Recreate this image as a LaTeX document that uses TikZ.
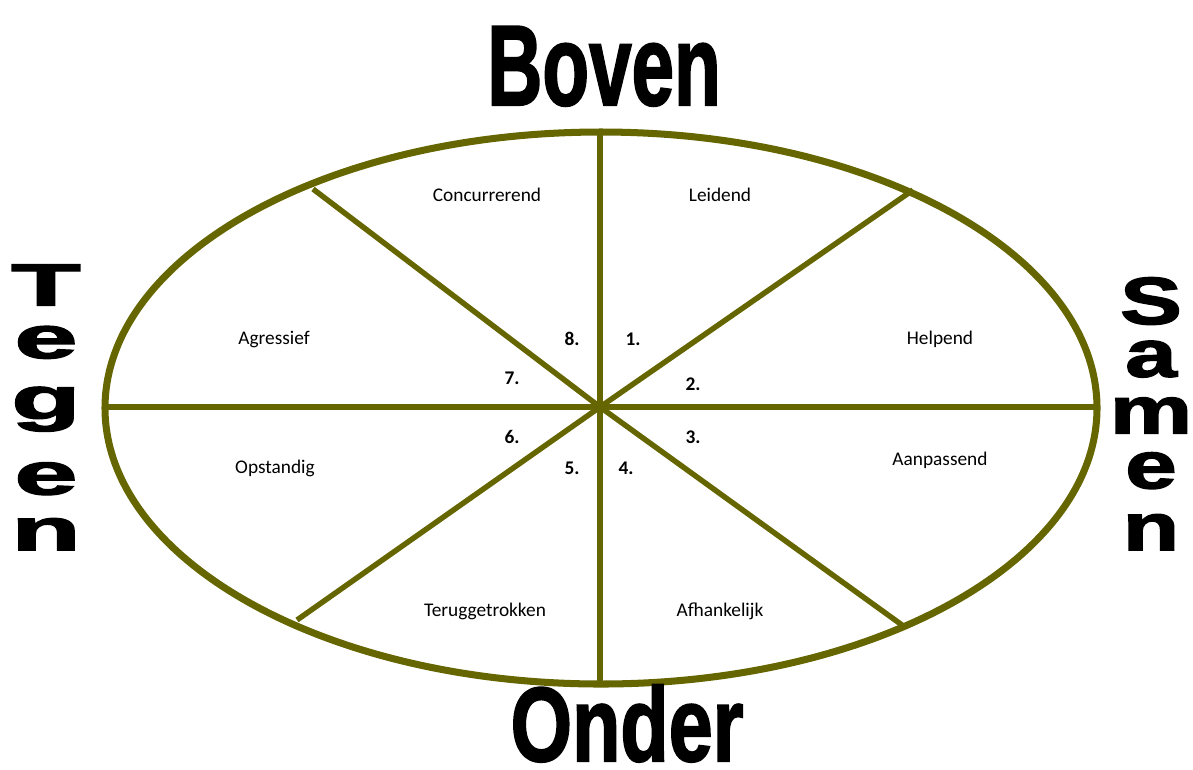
\documentclass[tikz,border=0pt]{standalone}
\usepackage{fontspec}
\setmainfont{Carlito}
\newfontfamily\blackfont[FakeBold=2]{Liberation Sans}
\usepackage{graphicx}
\usepackage{tikz}
\definecolor{rimolive}{RGB}{102,102,0}

\begin{document}
\begin{tikzpicture}[x=0.02cm, y=-0.02cm,
    rim/.style={draw=rimolive, line width=4pt},
    spoke/.style={draw=rimolive, line width=3.1pt},
    lbl/.style={font=\fontsize{11}{13}\selectfont, inner sep=0pt},
    num/.style={font=\fontsize{11}{13}\selectfont\bfseries, inner sep=0pt},
    sideword/.style={align=center, anchor=north, inner sep=0pt,
        font=\blackfont\fontsize{34}{30}\selectfont\bfseries},
    bigword/.style={font=\blackfont\fontsize{50}{50}\selectfont\bfseries, anchor=base, inner sep=0pt}]
    \useasboundingbox (0,0) rectangle (1193,769);

    % spokes
    \coordinate (c) at (600,407);
    \coordinate (rimtop) at (600,132);
    \coordinate (rimbot) at (600,684);
    \coordinate (rimleft) at (106,407);
    \coordinate (rimright) at (1097,407);
    \coordinate (rimtl) at (313,189);
    \coordinate (rimtr) at (913,190);
    \coordinate (rimbr) at (902,625);
    \coordinate (rimbl) at (297,620);
    \foreach \p in {rimtop,rimbot,rimleft,rimright,rimtl,rimtr,rimbr,rimbl}
        \draw[spoke] (c) -- (\p);

    % the ring
    \draw[rim] (601,408) ellipse [x radius=496, y radius=276];

    % sector labels
    \node[lbl] (concurrerend) at (487,195) {Concurrerend};
    \node[lbl] (leidend) at (720,195) {Leidend};
    \node[lbl] (agressief) at (274,339) {Agressief};
    \node[lbl] (helpend) at (940,339) {Helpend};
    \node[lbl] (opstandig) at (275,468) {Opstandig};
    \node[lbl] (aanpassend) at (940,460) {Aanpassend};
    \node[lbl] (teruggetrokken) at (485,611) {Teruggetrokken};
    \node[lbl] (afhankelijk) at (720,611) {Afhankelijk};

    % numbers
    \node[num] (n1) at (633,339) {1.};
    \node[num] (n2) at (693,384) {2.};
    \node[num] (n3) at (693,437) {3.};
    \node[num] (n4) at (626,468) {4.};
    \node[num] (n5) at (572,468) {5.};
    \node[num] (n6) at (512,437) {6.};
    \node[num] (n7) at (512,378) {7.};
    \node[num] (n8) at (572,339) {8.};

    % axis words
    \node[bigword] (boven) at (604,105) {\scalebox{0.87}[1.3]{Boven}};
    \node[bigword] (onder) at (627,761) {\scalebox{0.9}[1.2]{Onder}};
    \node[sideword] (tegen) at (46,264)
        {\scalebox{1.9}[1]{T}\\ \scalebox{1.9}[1]{e}\\[4.6pt] \scalebox{1.9}[1]{g}\\[13pt]
         \scalebox{1.9}[1]{e}\\[1.8pt] \scalebox{1.9}[1]{n}};
    \node[sideword] (samen) at (1151,277)
        {\scalebox{1.55}[1.12]{S}\\ \scalebox{1.55}[1.12]{a}\\[2.3pt] \scalebox{1.55}[1.12]{m}\\[1.2pt]
         \scalebox{1.55}[1.12]{e}\\[5.2pt] \scalebox{1.55}[1.12]{n}};
\end{tikzpicture}
\end{document}
